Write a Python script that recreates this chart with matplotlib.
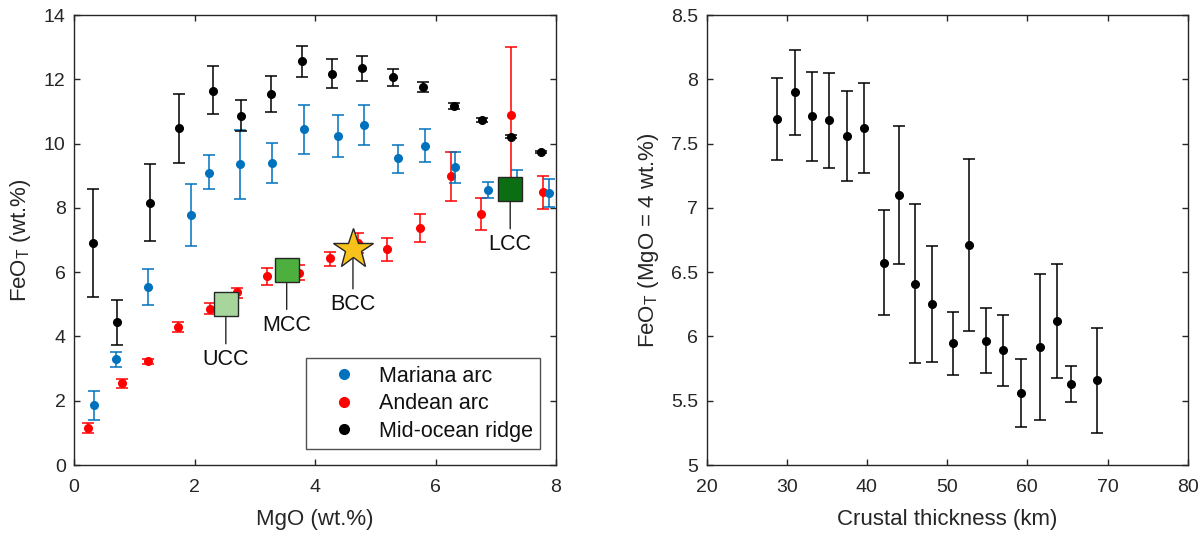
import matplotlib
matplotlib.use("Agg")
import matplotlib.pyplot as plt
from matplotlib.lines import Line2D
import numpy as np

# ---------------- data: left panel ----------------
mor_mgo = [0.32, 0.71, 1.26, 1.75, 2.30, 2.77, 3.27, 3.78, 4.28, 4.78, 5.29, 5.79, 6.30, 6.78, 7.25, 7.75]
mor_feo = [6.92, 4.44, 8.16, 10.47, 11.65, 10.87, 11.54, 12.56, 12.17, 12.34, 12.07, 11.76, 11.18, 10.73, 10.22, 9.74]
mor_lo = [5.24, 3.73, 6.98, 9.40, 10.91, 10.38, 10.98, 12.07, 11.72, 11.94, 11.80, 11.60, 11.09, 10.67, 10.16, 9.70]
mor_hi = [8.58, 5.12, 9.36, 11.54, 12.41, 11.36, 12.10, 13.04, 12.62, 12.71, 12.33, 11.91, 11.27, 10.79, 10.28, 9.78]

mar_mgo = [0.34, 0.69, 1.23, 1.94, 2.24, 2.76, 3.28, 3.82, 4.38, 4.82, 5.37, 5.83, 6.32, 6.87, 7.36, 7.88]
mar_feo = [1.87, 3.29, 5.55, 7.78, 9.10, 9.35, 9.40, 10.45, 10.24, 10.58, 9.55, 9.94, 9.27, 8.55, 8.83, 8.47]
mar_lo = [1.41, 3.05, 4.98, 6.81, 8.58, 8.27, 8.78, 9.67, 9.59, 9.95, 9.10, 9.42, 8.78, 8.30, 8.47, 8.03]
mar_hi = [2.30, 3.52, 6.11, 8.75, 9.63, 10.43, 10.01, 11.21, 10.90, 11.20, 9.97, 10.46, 9.75, 8.80, 9.19, 8.90]

and_mgo = [0.23, 0.79, 1.22, 1.73, 2.25, 2.71, 3.21, 3.73, 4.25, 4.72, 5.20, 5.75, 6.25, 6.75, 7.25, 7.78]
and_feo = [1.15, 2.54, 3.23, 4.29, 4.85, 5.37, 5.88, 5.98, 6.44, 6.90, 6.71, 7.38, 8.99, 7.82, 10.90, 8.48]
and_lo = [1.00, 2.39, 3.15, 4.15, 4.69, 5.19, 5.60, 5.75, 6.20, 6.60, 6.35, 6.94, 8.22, 7.31, 8.78, 7.96]
and_hi = [1.30, 2.68, 3.31, 4.44, 5.03, 5.51, 6.14, 6.22, 6.62, 7.21, 7.06, 7.81, 9.74, 8.31, 13.02, 9.00]

comp_names = ['UCC', 'MCC', 'BCC', 'LCC']
comp_mgo = [2.52, 3.53, 4.63, 7.24]
comp_feo = [5.00, 6.07, 6.71, 8.58]
comp_colors = ['#a6d69b', '#4caf3e', '#f8c21a', '#0b6e12']
comp_markers = ['s', 's', '*', 's']

series_labels = ['Mariana arc', 'Andean arc', 'Mid-ocean ridge']
series_colors = ['#0072BD', '#FF0000', '#000000']

# ---------------- data: right panel ----------------
crust_km = [28.8, 31.0, 33.1, 35.3, 37.5, 39.6, 42.1, 44.0, 46.0, 48.1, 50.7, 52.75, 54.9, 57.0, 59.2, 61.6, 63.7, 65.5, 68.75]
feo4 = [7.69, 7.90, 7.715, 7.68, 7.557, 7.624, 6.57, 7.10, 6.41, 6.25, 5.95, 6.71, 5.965, 5.893, 5.563, 5.921, 6.123, 5.63, 5.66]
feo4_lo = [7.37, 7.57, 7.365, 7.313, 7.207, 7.274, 6.167, 6.566, 5.79, 5.80, 5.70, 6.043, 5.714, 5.615, 5.296, 5.353, 5.68, 5.493, 5.252]
feo4_hi = [8.01, 8.23, 8.06, 8.047, 7.91, 7.973, 6.98, 7.634, 7.033, 6.70, 6.19, 7.38, 6.22, 6.167, 5.827, 6.486, 6.566, 5.77, 6.066]

# ---------------- style ----------------
plt.rcParams['font.family'] = ['Liberation Sans', 'DejaVu Sans']
plt.rcParams['mathtext.fontset'] = 'custom'
plt.rcParams['mathtext.rm'] = 'Liberation Sans'
ink = '#262626'

fig = plt.figure(figsize=(12.04, 5.33), dpi=100)
axL = fig.add_axes([74 / 1204, 68 / 533, 482 / 1204, 450 / 533])
axR = fig.add_axes([706.5 / 1204, 68 / 533, 481.2 / 1204, 450 / 533])


def style_axes(ax):
    for sp in ax.spines.values():
        sp.set_linewidth(1.0)
        sp.set_color(ink)
    ax.tick_params(direction='in', top=True, right=True, length=4, width=1.0,
                   color=ink, labelcolor=ink, labelsize=14)
    ax.tick_params(axis='x', pad=10)
    ax.tick_params(axis='y', pad=6)


def errbar(ax, x, y, lo, hi, color, z):
    y = np.asarray(y)
    yerr = [y - np.asarray(lo), np.asarray(hi) - y]
    ax.errorbar(x, y, yerr=yerr, fmt='o', color=color, ecolor=color, ms=5.5,
                elinewidth=1.1, capsize=4.3, capthick=1.1, zorder=z)


# ---- left panel ----
errbar(axL, and_mgo, and_feo, and_lo, and_hi, series_colors[1], 2)
errbar(axL, mar_mgo, mar_feo, mar_lo, mar_hi, series_colors[0], 2.1)
errbar(axL, mor_mgo, mor_feo, mor_lo, mor_hi, series_colors[2], 2.2)

for name, xm, ym, col, mk in zip(comp_names, comp_mgo, comp_feo, comp_colors, comp_markers):
    ms = 30 if mk == '*' else 17
    axL.plot([xm], [ym], marker=mk, ms=ms, mfc=col, mec='#262626', mew=1.0,
             ls='none', zorder=5)
    axL.annotate(name, xy=(xm, ym), xytext=(0, -40), textcoords='offset points',
                 ha='center', va='center', fontsize=15.5, color='#111111',
                 arrowprops=dict(arrowstyle='-', color=ink, lw=1.0,
                                 shrinkA=2, shrinkB=0), zorder=4)

axL.set_xlim(0, 8)
axL.set_ylim(0, 14)
axL.set_xticks([0, 2, 4, 6, 8])
axL.set_yticks([0, 2, 4, 6, 8, 10, 12, 14])
axL.set_xlabel('MgO (wt.%)', fontsize=16, color=ink, labelpad=9.5)
axL.set_ylabel(r'FeO$_\mathregular{T}$ (wt.%)', fontsize=16, color=ink, labelpad=8)
style_axes(axL)

handles = [Line2D([], [], marker='o', ls='none', color=c, ms=7) for c in series_colors]
leg = axL.legend(handles, series_labels, loc='lower right',
                 bbox_to_anchor=(0.967, 0.035), fontsize=15.5, frameon=True,
                 fancybox=False, handlelength=2.75, handletextpad=0.25,
                 labelspacing=0.3, borderpad=0.35, borderaxespad=0)
leg.get_frame().set_edgecolor(ink)
leg.get_frame().set_linewidth(1.0)
for t in leg.get_texts():
    t.set_color('#111111')

# ---- right panel ----
errbar(axR, crust_km, feo4, feo4_lo, feo4_hi, '#000000', 2)
axR.set_xlim(20, 80)
axR.set_ylim(5, 8.5)
axR.set_xticks([20, 30, 40, 50, 60, 70, 80])
axR.set_yticks([5, 5.5, 6, 6.5, 7, 7.5, 8, 8.5])
axR.set_yticklabels(['5', '5.5', '6', '6.5', '7', '7.5', '8', '8.5'])
axR.set_xlabel('Crustal thickness (km)', fontsize=16, color=ink, labelpad=9.5)
axR.set_ylabel(r'FeO$_\mathregular{T}$ (MgO = 4 wt.%)', fontsize=16, color=ink, labelpad=7)
style_axes(axR)

fig.savefig('out.png', dpi=100)
